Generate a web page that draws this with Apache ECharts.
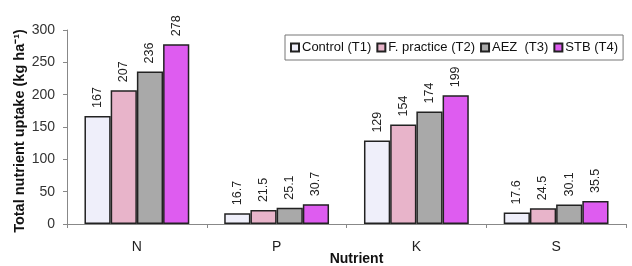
<!DOCTYPE html>
<html>
<head>
<meta charset="utf-8">
<script src="https://cdn.jsdelivr.net/npm/echarts@6/dist/echarts.min.js"></script>
<style>
  html, body {margin: 0; padding: 0; background: #fff;}
  #chart {width: 632px; height: 266px;}
</style>
</head>
<body>
<div id="chart"></div>
<script>
const categories = ['N', 'P', 'K', 'S'];
const seriesNames = ['Control (T1)', 'F. practice (T2)', 'AEZ  (T3)', 'STB (T4)'];
const control = [167, 16.7, 129, 17.6];
const fPractice = [207, 21.5, 154, 24.5];
const aez = [236, 25.1, 174, 30.1];
const stb = [278, 30.7, 199, 35.5];
const yTicks = [0, 50, 100, 150, 200, 250, 300];

const fills = ['#efeffa', '#e8b4ca', '#a9a9a9', '#de5cf0'];
const values = [control, fPractice, aez, stb];

const chart = echarts.init(document.getElementById('chart'));

const labelStyle = {
  show: true,
  position: 'top',
  rotate: 90,
  align: 'left',
  verticalAlign: 'middle',
  distance: 8,
  fontFamily: 'Liberation Sans, Arial',
  fontSize: 12.5,
  color: '#222'
};

chart.setOption({
  animation: false,
  textStyle: {fontFamily: 'Liberation Sans, Arial'},
  grid: {left: 67, right: 6, top: 30, bottom: 42, containLabel: false, outerBoundsMode: 'none'},
  legend: {
    left: 285,
    top: 35,
    itemWidth: 8,
    itemHeight: 8,
    itemGap: 5,
    padding: [6, 5],
    borderColor: '#777',
    borderWidth: 1,
    backgroundColor: '#fff',
    textStyle: {fontSize: 13, color: '#111', padding: [0, 0, 0, -2]},
    data: seriesNames.map(n => ({name: n, icon: 'rect'}))
  },
  xAxis: {
    type: 'category',
    data: categories,
    name: 'Nutrient',
    nameLocation: 'middle',
    nameGap: 28,
    nameMoveOverlap: false,
    nameTextStyle: {fontSize: 14, fontWeight: 'bold', color: '#111', padding: [0, 0, 0, 20]},
    axisLine: {lineStyle: {color: '#888', width: 1}},
    axisTick: {show: true, length: 4, lineStyle: {color: '#888'}},
    axisLabel: {fontSize: 14, color: '#222', margin: 16}
  },
  yAxis: {
    type: 'value',
    min: 0,
    max: yTicks[yTicks.length - 1],
    interval: yTicks[1] - yTicks[0],
    name: 'Total nutrient uptake (kg ha\u207B\u00B9)',
    nameLocation: 'middle',
    nameGap: 40,
    nameMoveOverlap: false,
    nameTextStyle: {fontSize: 14.5, fontWeight: 'bold', color: '#111', padding: [0, 8, 0, 0]},
    axisLine: {show: true, lineStyle: {color: '#888', width: 1}},
    axisTick: {show: true, length: 4, lineStyle: {color: '#888'}},
    axisLabel: {fontSize: 14, color: '#333', margin: 12},
    splitLine: {show: false}
  },
  series: seriesNames.map((name, i) => ({
    name: name,
    type: 'bar',
    data: values[i],
    barGap: '0%',
    barCategoryGap: '25%',
    itemStyle: {color: fills[i], borderColor: '#222', borderWidth: 1.5},
    label: labelStyle
  }))
});
</script>
</body>
</html>
